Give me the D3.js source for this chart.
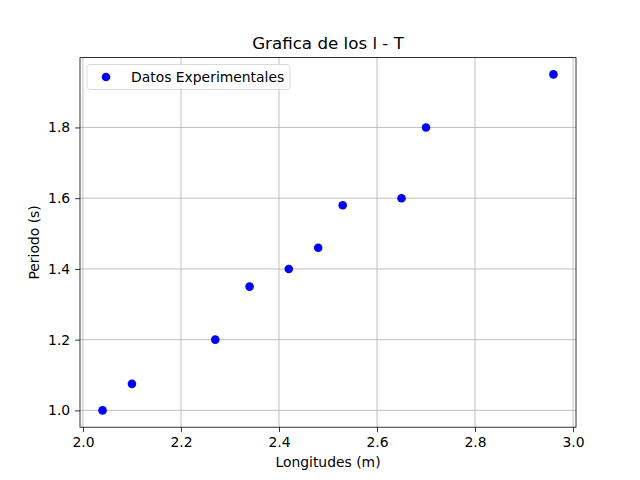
<!DOCTYPE html>
<html><head><meta charset="utf-8">
<script src="https://cdn.jsdelivr.net/npm/d3@7"></script>
<style>body{margin:0;background:#fff}text{font-family:"DejaVu Sans",sans-serif}</style>
</head><body>
<svg id="c" width="640" height="480"></svg>
<script>
const longitudes = [2.04, 2.10, 2.27, 2.34, 2.42, 2.48, 2.53, 2.65, 2.70, 2.96];
const periodos = [1.00, 1.075, 1.20, 1.35, 1.40, 1.46, 1.58, 1.60, 1.80, 1.95];
const xTicks = [2.0, 2.2, 2.4, 2.6, 2.8, 3.0];
const yTicks = [1.0, 1.2, 1.4, 1.6, 1.8];

const svg = d3.select("#c");
const L=80,R=576,T=57.6,B=427.2;
const xr=[d3.min(longitudes),d3.max(longitudes)], xm=(xr[1]-xr[0])*0.05;
const yr=[d3.min(periodos),d3.max(periodos)], ym=(yr[1]-yr[0])*0.05;
const x=d3.scaleLinear().domain([xr[0]-xm,xr[1]+xm]).range([L,R]);
const y=d3.scaleLinear().domain([yr[0]-ym,yr[1]+ym]).range([B,T]);

const g=svg.append("g");
g.selectAll(".gx").data(xTicks).join("line").attr("x1",d=>x(d)).attr("x2",d=>x(d)).attr("y1",T).attr("y2",B).attr("stroke","#b0b0b0").attr("stroke-width",0.8);
g.selectAll(".gy").data(yTicks).join("line").attr("y1",d=>y(d)).attr("y2",d=>y(d)).attr("x1",L).attr("x2",R).attr("stroke","#b0b0b0").attr("stroke-width",0.8);

const xa=svg.append("g").attr("transform",`translate(0,${B})`).call(d3.axisBottom(x).tickValues(xTicks).tickFormat(d3.format(".1f")).tickSize(4.9).tickPadding(4.9));
const ya=svg.append("g").attr("transform",`translate(${L},0)`).call(d3.axisLeft(y).tickValues(yTicks).tickFormat(d3.format(".1f")).tickSize(4.9).tickPadding(4.9));
[xa,ya].forEach(a=>{a.select(".domain").remove();a.selectAll("text").attr("font-size",13.9).attr("fill","#000");a.selectAll("line").attr("stroke","#000").attr("stroke-width",0.8);});

svg.append("rect").attr("x",L).attr("y",T).attr("width",R-L).attr("height",B-T).attr("fill","none").attr("stroke","#000").attr("stroke-width",0.8);

svg.selectAll(".pt").data(longitudes).join("circle").attr("cx",d=>x(d)).attr("cy",(d,i)=>y(periodos[i])).attr("r",4.3).attr("fill","#0000ff");

svg.append("text").attr("x",(L+R)/2).attr("y",49).attr("text-anchor","middle").attr("font-size",16.7).text("Grafica de los l - T");
svg.append("text").attr("x",(L+R)/2).attr("y",467).attr("text-anchor","middle").attr("font-size",13.9).text("Longitudes (m)");
svg.append("text").attr("transform",`translate(39,${(T+B)/2}) rotate(-90)`).attr("text-anchor","middle").attr("font-size",13.9).text("Periodo (s)");

const lg=svg.append("g");
lg.append("rect").attr("x",87).attr("y",64.5).attr("width",203).attr("height",25).attr("rx",3).attr("fill","#fff").attr("fill-opacity",0.8).attr("stroke","#d0d0d0").attr("stroke-width",0.8);
lg.append("circle").attr("cx",106).attr("cy",77).attr("r",4.3).attr("fill","#0000ff");
lg.append("text").attr("x",131).attr("y",81.5).attr("font-size",13.9).text("Datos Experimentales");
</script>
</body></html>
